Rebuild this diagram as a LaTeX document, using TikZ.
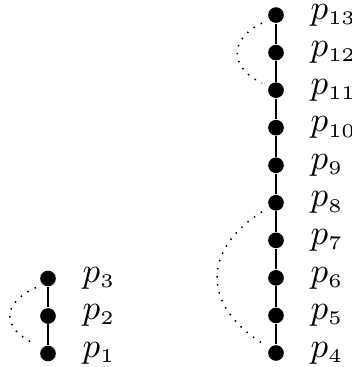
\RequirePackage{fix-cm}
\documentclass[tikz,border=0pt]{standalone}
\DeclareMathSizes{10.5}{10.5}{5.8}{5}
\begin{document}
\begin{tikzpicture}[x=0.3pt,y=0.3pt,
  dotnode/.style={circle,fill=black,inner sep=0pt,minimum size=4.7pt},
  lbl/.style={anchor=west,inner sep=0pt,font=\fontsize{10.5}{12}\selectfont},
  link/.style={line width=0.45pt},
  loopline/.style={dotted,line width=0.45pt}]
\useasboundingbox (0,0) rectangle (351,367);
% left column
\foreach \i in {1,2,3}{
  \node[dotnode] (p\i) at (48,{13.5+37.5*(\i-1)}) {};
  \node[lbl] (l\i) at (82,{14+37.5*(\i-1)}) {$p_{\i}$};
}
% right column
\foreach \i in {4,...,13}{
  \node[dotnode] (p\i) at (276,{14+37.55*(\i-4)}) {};
  \node[lbl] (l\i) at (310,{14+37.55*(\i-4)}) {$p_{\i}$};
}
\draw[link] (p1) -- (p2) -- (p3);
\draw[link] (p4) -- (p5) -- (p6) -- (p7) -- (p8) -- (p9) -- (p10) -- (p11) -- (p12) -- (p13);
% dotted arcs
\draw[loopline] ([shift={(-12,-9)}]p3.center) .. controls +(-35,-16) and +(-35,16) .. ([shift={(-12,9)}]p1.center);
\draw[loopline] ([shift={(-14,-8)}]p13.center) .. controls +(-33,-16) and +(-33,16) .. ([shift={(-14,7)}]p11.center);
\draw[loopline] ([shift={(-14,-9)}]p8.center) .. controls +(-60,-38) and +(-60,38) .. ([shift={(-14,10)}]p4.center);
\end{tikzpicture}
\end{document}
